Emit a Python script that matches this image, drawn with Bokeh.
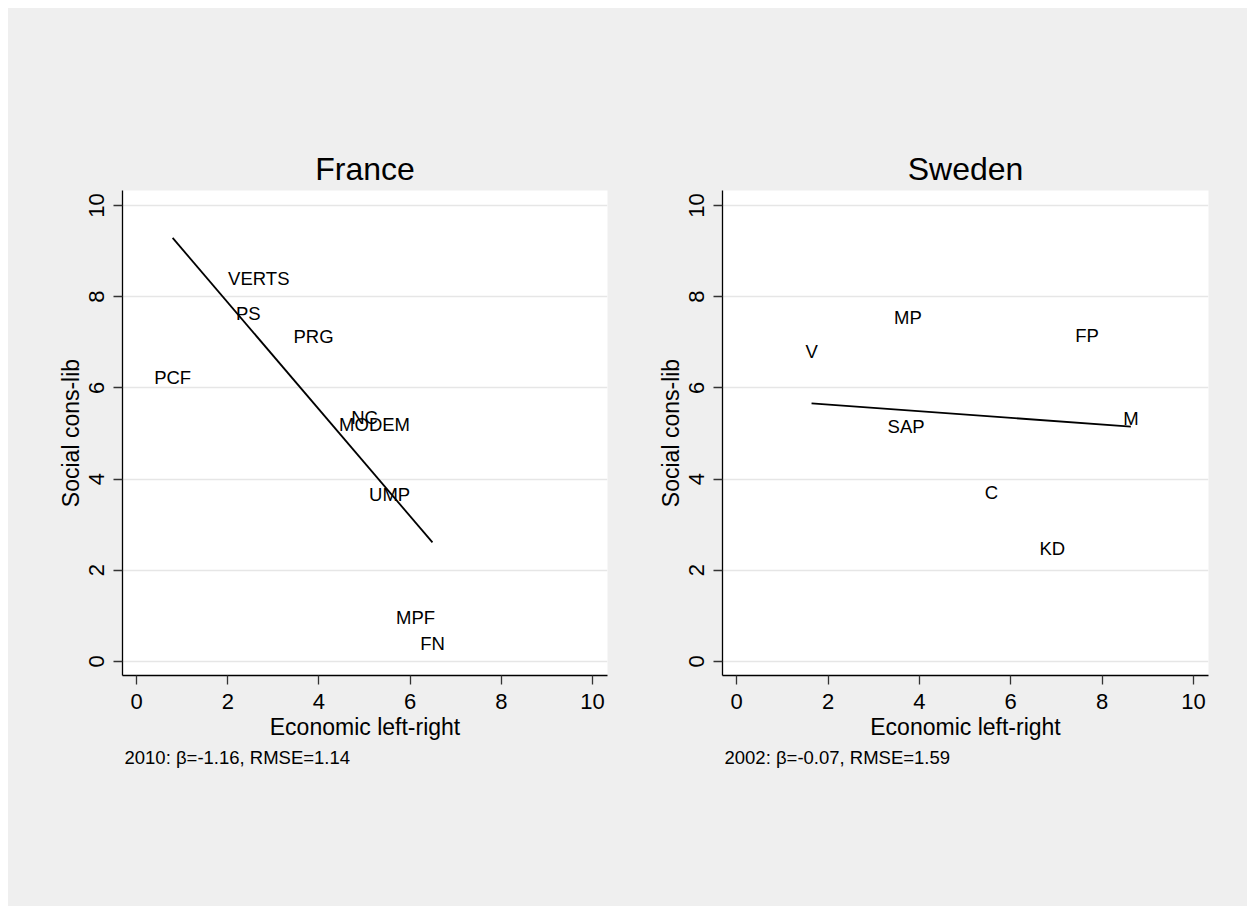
from bokeh.plotting import figure
from bokeh.models import Range1d, FixedTicker, ColumnDataSource, Title
from bokeh.layouts import row
from bokeh.embed import file_html
from bokeh.resources import INLINE
from bokeh.core.properties import value

# ---------------- data ----------------
fr_party = ["PCF", "PS", "VERTS", "PRG", "NC", "MODEM", "UMP", "MPF", "FN"]
fr_econ = [0.79, 2.45, 2.68, 3.88, 5.00, 5.22, 5.55, 6.12, 6.49]
fr_social = [6.23, 7.63, 8.41, 7.12, 5.34, 5.19, 3.65, 0.97, 0.40]
fr_fit_y = [9.29, 2.61]          # fitted line at min / max economic position
fr_note = "2010: \u03b2=-1.16, RMSE=1.14"

se_party = ["V", "MP", "SAP", "C", "KD", "FP", "M"]
se_econ = [1.64, 3.75, 3.71, 5.58, 6.91, 7.67, 8.63]
se_social = [6.79, 7.55, 5.15, 3.71, 2.47, 7.15, 5.33]
se_fit_y = [5.66, 5.15]
se_note = "2002: \u03b2=-0.07, RMSE=1.59"

ticks = [0, 2, 4, 6, 8, 10]

FONT = "Liberation Sans"
BG = "#efefef"


def panel(title, party, econ, social, fit_y, note, left, frame_w, right):
    top, frame_h, bottom = 182, 485, 231
    p = figure(width=left + frame_w + right, height=top + frame_h + bottom,
               output_backend="svg", toolbar_location=None,
               x_range=Range1d(-0.31, 10.33), y_range=Range1d(-0.31, 10.33),
               min_border_left=left, min_border_right=right,
               min_border_top=top, min_border_bottom=bottom,
               background_fill_color="white", border_fill_color=BG,
               outline_line_color=None)
    p.title.text = title
    p.title.align = "center"
    p.title.text_font = FONT
    p.title.text_font_size = "32px"
    p.title.text_font_style = "normal"
    p.title.text_color = "black"
    p.title.standoff = 7

    for ax in (p.xaxis[0], p.yaxis[0]):
        ax.ticker = FixedTicker(ticks=ticks)
        ax.minor_tick_line_color = None
        ax.major_tick_in = 0
        ax.major_tick_out = 9
        ax.major_tick_line_color = "#333333"
        ax.major_tick_line_width = 1.3
        ax.axis_line_color = "black"
        ax.axis_line_width = 1.3
        ax.major_label_text_font = FONT
        ax.major_label_text_font_size = "22px"
        ax.major_label_text_color = "black"
        ax.axis_label_text_font = FONT
        ax.axis_label_text_font_size = "23px"
        ax.axis_label_text_font_style = "normal"
        ax.axis_label_text_color = "black"
        ax.major_label_standoff = 9
    p.xaxis.axis_label = "Economic left-right"
    p.yaxis.axis_label = "Social cons-lib"
    p.xaxis.axis_label_standoff = 2
    p.yaxis.axis_label_standoff = 3
    p.yaxis.major_label_orientation = "vertical"

    p.xgrid.visible = False
    p.ygrid.ticker = FixedTicker(ticks=ticks)
    p.ygrid.grid_line_color = "#e6e6e6"
    p.ygrid.grid_line_width = 1.6

    fit_x = [min(econ), max(econ)]
    p.line(fit_x, fit_y, line_color="black", line_width=1.8)

    src = ColumnDataSource(dict(x=econ, y=social, t=party))
    p.text("x", "y", text="t", source=src, text_font=value(FONT),
           text_font_size="18.5px", text_align="center",
           text_baseline="middle", text_color="black")

    p.add_layout(Title(text=note, align="left", offset=2, standoff=4,
                       text_font=FONT, text_font_size="18.5px",
                       text_font_style="normal", text_color="black"), "below")
    return p


p1 = panel("France", fr_party, fr_econ, fr_social, fr_fit_y, fr_note, 114, 485, 35)
p2 = panel("Sweden", se_party, se_econ, se_social, se_fit_y, se_note, 80, 486, 39)

layout = row(p1, p2, margin=(8, 0, 0, 8), styles={"background-color": BG})
open("out.html", "w").write(file_html(layout, INLINE))
